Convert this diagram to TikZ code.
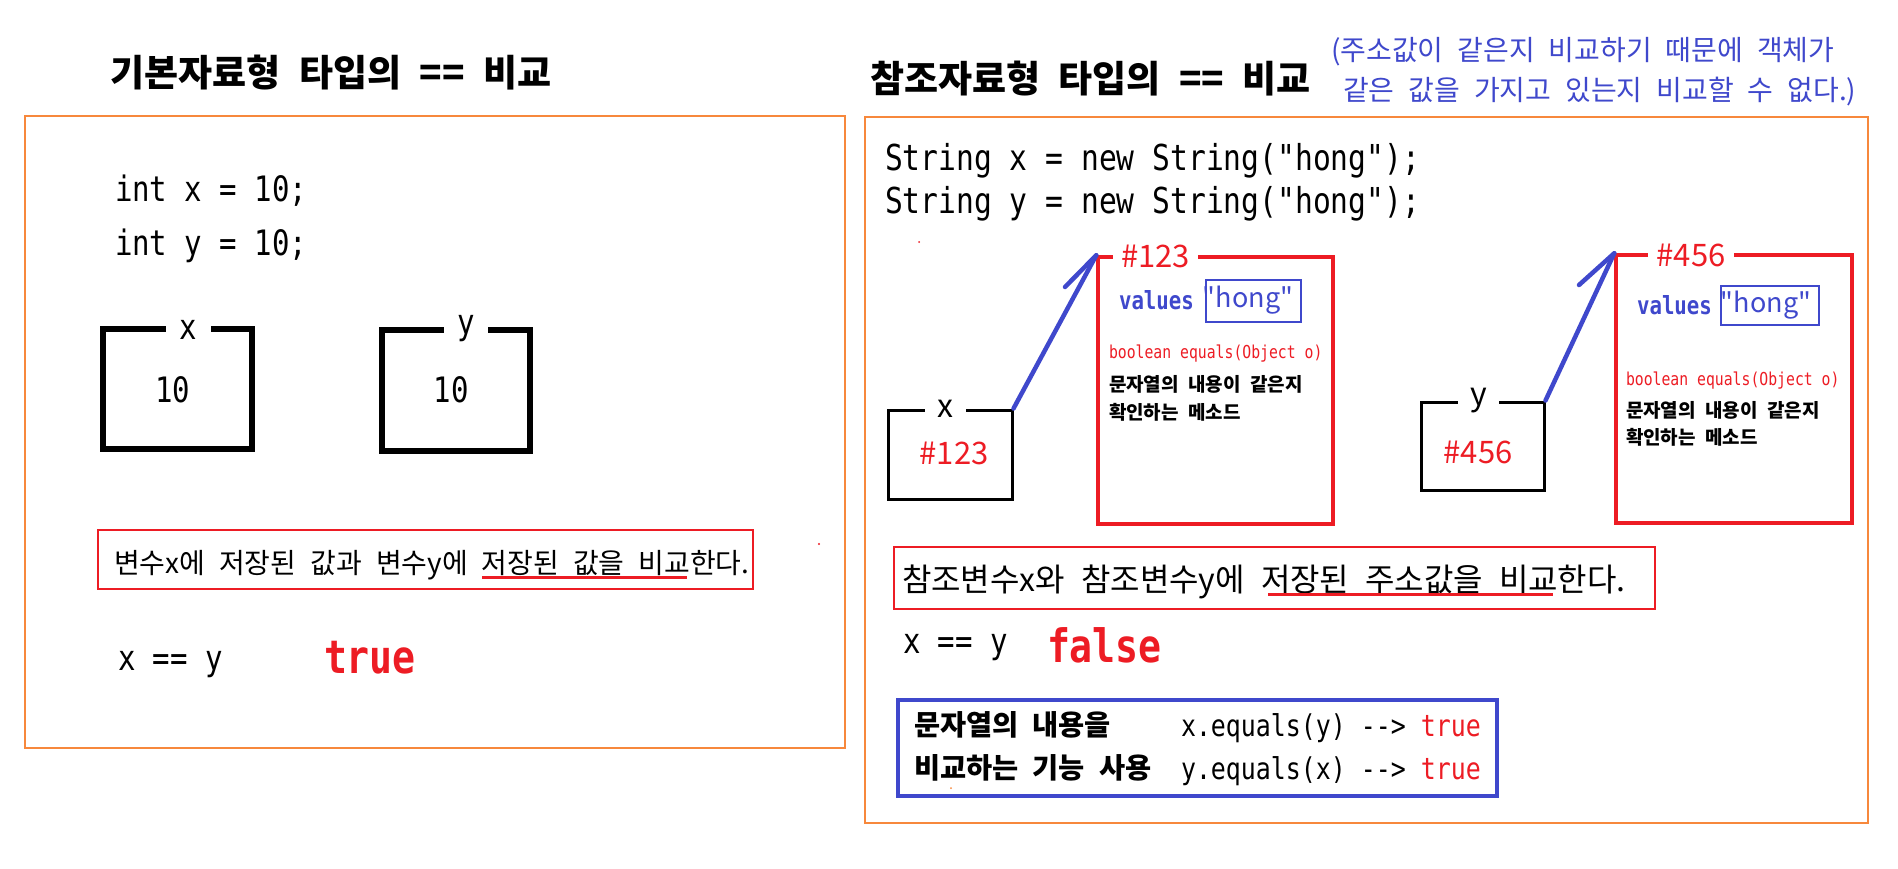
\documentclass[tikz,border=0pt]{standalone}
\usepackage{fontspec}
\setmainfont{Noto Sans CJK KR}
\newfontfamily\plainkr{Noto Sans CJK KR}
\newfontfamily\mono[FakeStretch=0.83]{DejaVu Sans Mono}
\definecolor{cred}{RGB}{237,28,36}
\definecolor{cblue}{RGB}{63,72,204}
\definecolor{corange}{RGB}{247,136,60}
\newcommand\halfspace{\spaceskip=0.5em\relax}
\begin{document}
\begin{tikzpicture}[x=1pt,y=-1pt,
  t/.style={inner sep=0pt, outer sep=0pt, anchor=west, font=\fontsize{#1}{#1}\selectfont, execute at begin node=\halfspace, text height={0.76*#1pt}, text depth=0pt},
  tc/.style={t=#1, anchor=center},
  panel/.style={draw=corange, line width=1.5pt, inner sep=0pt},
  thinred/.style={draw=cred, line width=1.5pt, inner sep=0pt},
  varbox/.style={draw=black, inner sep=0pt},
  objbox/.style={draw=cred, line width=3.5pt, inner sep=0pt},
  valbox/.style={draw=cblue, line width=1.3pt, inner sep=0pt},
  gap/.style={fill=white, minimum height=10},
  arr/.style={draw=cblue, line width=4.5pt, line cap=round},
  uline/.style={draw=cred, line width=3pt}
]
\fill[white] (0,0) rectangle (1898,868);
\useasboundingbox (0,0) rectangle (1898,868);

% ---------- left panel ----------
\node[tc=37] (lt) at (331,72) {\bfseries 기본자료형 타입의 == 비교};
\node[panel, minimum width=820, minimum height=632] (lp) at (435,432) {};
\node[t=35] (c1) at (115,188) {\mono int x = 10;};
\node[t=35] (c2) at (115,242) {\mono int y = 10;};

\node[varbox, line width=5.5pt, minimum width=149, minimum height=120] (bx) at (177.5,389) {};
\node[tc=35, gap, minimum width=45] (bxl) at (188.5,326) {\mono x};
\node[tc=35] (bxv) at (173,389) {\mono 10};

\node[varbox, line width=5.5pt, minimum width=148, minimum height=121] (by) at (456,390.5) {};
\node[tc=35, gap, minimum width=44] (byl) at (466,321.5) {\mono y};
\node[tc=35] (byv) at (451,389) {\mono 10};

\node[thinred, minimum width=655, minimum height=59] (ls) at (425.5,559.5) {};
\node[t=28] (lst) at (114,563) {변수x에 저장된 값과 변수y에 저장된 값을 비교한다.};
\coordinate (lu1) at (482,577);
\coordinate (lu2) at (687,577);
\draw[uline] (lu1) -- (lu2);

\node[t=35] (leq) at (118,657) {\mono x == y};
\node[t=46, text=cred] (ltrue) at (324,656) {\mono\bfseries true};
\fill[cred] (819,544) circle (1.2);

% ---------- right panel ----------
\node[tc=37] (rt) at (1090.5,78) {\bfseries 참조자료형 타입의 == 비교};
\node[t=28, text=cblue] (n1) at (1331,50) {(주소값이 같은지 비교하기 때문에 객체가};
\node[t=28, text=cblue] (n2) at (1343,90) {같은 값을 가지고 있는지 비교할 수 없다.)};
\node[panel, minimum width=1003, minimum height=706] (rp) at (1366.5,470) {};
\node[t=35.7] (c3) at (885,157) {\mono String x = new String("hong");};
\node[t=35.7] (c4) at (885,200) {\mono String y = new String("hong");};
\fill[cred] (919,242) circle (1);

% variable x and object #123
\node[varbox, line width=3pt, minimum width=124, minimum height=89] (rx) at (950,454.5) {};
\node[tc=32, gap, minimum width=41] (rxl) at (945.5,405.5) {x};
\node[tc=31, text=cred] (rxv) at (954,453) {\#123};

\node[objbox, minimum width=235, minimum height=267] (o1) at (1215.5,390.5) {};
\node[tc=31, gap, minimum width=85, text=cred] (o1l) at (1155.5,256) {\#123};
\node[t=25, text=cblue] (o1v) at (1119,300) {\mono\bfseries values};
\node[valbox, minimum width=95, minimum height=42] (h1) at (1253.5,301) {};
\node[tc=27, text=cblue] (h1t) at (1248,297) {\plainkr "hong"};
\node[t=17.8, text=cred] (o1m) at (1109,352) {\mono boolean equals(Object o)};
\node[t=19] (o1k1) at (1109,384) {\bfseries 문자열의 내용이 같은지};
\node[t=19] (o1k2) at (1109,412) {\bfseries 확인하는 메소드};

\coordinate (b1) at (1065,287);
\draw[arr] (rx.north east) -- (o1.north west);
\draw[arr] (o1.north west) -- (b1);

% variable y and object #456
\node[varbox, line width=3pt, minimum width=123, minimum height=88] (ry) at (1482.5,446) {};
\node[tc=32, gap, minimum width=41] (ryl) at (1478.5,393.5) {y};
\node[tc=31, text=cred] (ryv) at (1478,452) {\#456};

\node[objbox, minimum width=236, minimum height=268] (o2) at (1734,389) {};
\node[tc=31, gap, minimum width=86, text=cred] (o2l) at (1691,255) {\#456};
\node[t=25, text=cblue] (o2v) at (1637,305) {\mono\bfseries values};
\node[valbox, minimum width=98, minimum height=39] (h2) at (1770,305.5) {};
\node[tc=27, text=cblue] (h2t) at (1766,302) {\plainkr "hong"};
\node[t=17.8, text=cred] (o2m) at (1626,379) {\mono boolean equals(Object o)};
\node[t=19] (o2k1) at (1626,410) {\bfseries 문자열의 내용이 같은지};
\node[t=19] (o2k2) at (1626,437) {\bfseries 확인하는 메소드};

\coordinate (b2) at (1579,285);
\draw[arr] (ry.north east) -- (o2.north west);
\draw[arr] (o2.north west) -- (b2);

% sentence
\node[thinred, minimum width=761, minimum height=62] (rs) at (1274.5,578) {};
\node[t=32] (rst) at (902,579) {참조변수x와 참조변수y에 저장된 주소값을 비교한다.};
\coordinate (ru1) at (1268,594);
\coordinate (ru2) at (1553,594);
\draw[uline] (ru1) -- (ru2);

\node[t=35] (req) at (903,640) {\mono x == y};
\node[t=46, text=cred] (rfalse) at (1047,645) {\mono\bfseries false};

% equals box
\node[draw=cblue, line width=3.5pt, inner sep=0pt, minimum width=599, minimum height=96] (eb) at (1197.5,748) {};
\node[t=28.4] (ek1) at (914,725) {\bfseries 문자열의 내용을};
\node[t=28.4] (ek2) at (914,768) {\bfseries 비교하는 기능 사용};
\node[t=30] (em1) at (1181,725) {\mono x.equals(y) -\kern0pt-\kern0pt> \textcolor{cred}{true}};
\node[t=30] (em2) at (1181,768) {\mono y.equals(x) -\kern0pt-\kern0pt> \textcolor{cred}{true}};
\fill[corange] (951,788) circle (1);
\end{tikzpicture}
\end{document}
